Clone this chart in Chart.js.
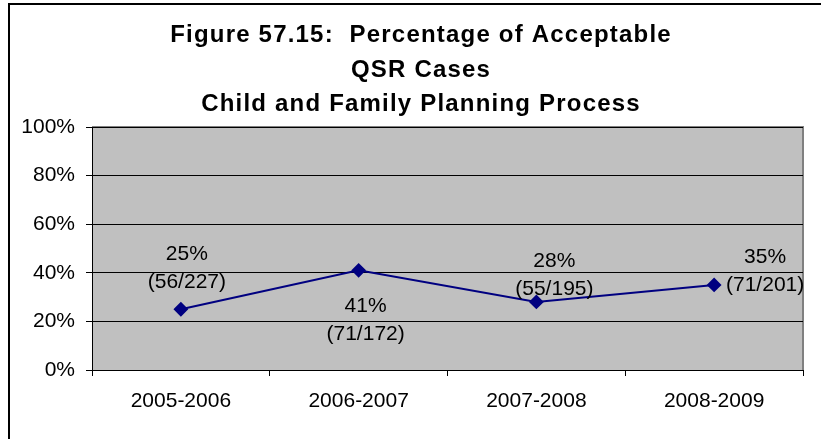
<!DOCTYPE html>
<html>
<head>
<meta charset="utf-8">
<script src="https://cdn.jsdelivr.net/npm/chart.js@4"></script>
<style>
  html, body { margin: 0; padding: 0; background: #fff; overflow: hidden; }
  .wrap { position: relative; width: 821px; height: 439px; }
  .frame { position: absolute; left: 8px; top: 3px; width: 900px; height: 500px; border: 2px solid #000; box-sizing: border-box; }
  canvas { position: absolute; left: 0; top: 0; }
</style>
</head>
<body>
<div class="wrap">
  <div class="frame"></div>
  <canvas id="chart" width="821" height="439"></canvas>
</div>
<script>
// chart data
const titleLines = ['Figure 57.15:  Percentage of Acceptable', 'QSR Cases', 'Child and Family Planning Process'];
const years = ['2005-2006', '2006-2007', '2007-2008', '2008-2009'];
const acceptablePct = [25, 41, 28, 35];
const caseCounts = ['(56/227)', '(71/172)', '(55/195)', '(71/201)'];
const yTicks = [0, 20, 40, 60, 80, 100];

// where each two-line label sits relative to its point (px)
const labelOffsets = [[6, -41], [7, 50], [18, -27], [51, -14]];
const titleBaselines = [42, 77, 111];

const FONT = 'Arial, "Liberation Sans", sans-serif';

// grey plot area with darker frame on top/right
const plotBackground = {
  id: 'plotBackground',
  beforeDraw(chart) {
    const { ctx, chartArea: a } = chart;
    ctx.save();
    ctx.fillStyle = '#C0C0C0';
    ctx.fillRect(a.left, a.top, a.right - a.left, a.bottom - a.top);
    ctx.strokeStyle = '#808080';
    ctx.lineWidth = 2;
    ctx.beginPath();
    ctx.moveTo(a.left, a.top);
    ctx.lineTo(a.right, a.top);
    ctx.lineTo(a.right, a.bottom);
    ctx.stroke();
    ctx.restore();
  }
};

// wide bold title, drawn by hand so letter spacing can match
const wideTitle = {
  id: 'wideTitle',
  afterDraw(chart) {
    const { ctx } = chart;
    ctx.save();
    ctx.font = 'bold 24px ' + FONT;
    ctx.letterSpacing = '1.2px';
    ctx.fillStyle = '#000';
    ctx.textAlign = 'center';
    ctx.textBaseline = 'alphabetic';
    titleLines.forEach((t, i) => ctx.fillText(t, 421, titleBaselines[i]));
    ctx.restore();
  }
};

// "25%" over "(56/227)" next to each point
const pointLabels = {
  id: 'pointLabels',
  afterDatasetsDraw(chart) {
    const { ctx } = chart;
    const meta = chart.getDatasetMeta(0);
    ctx.save();
    ctx.font = '21px ' + FONT;
    ctx.fillStyle = '#000';
    ctx.textAlign = 'center';
    ctx.textBaseline = 'middle';
    meta.data.forEach((pt, i) => {
      const cx = pt.x + labelOffsets[i][0];
      const cy = pt.y + labelOffsets[i][1];
      ctx.fillText(acceptablePct[i] + '%', cx, cy - 14);
      ctx.fillText(caseCounts[i], cx, cy + 14);
    });
    ctx.restore();
  }
};

new Chart(document.getElementById('chart'), {
  type: 'line',
  data: {
    labels: years,
    datasets: [{
      data: acceptablePct,
      borderColor: '#000080',
      backgroundColor: '#000080',
      borderWidth: 2,
      pointStyle: 'rectRot',
      pointRadius: 6,
      pointHoverRadius: 6,
      tension: 0
    }]
  },
  options: {
    responsive: false,
    animation: false,
    layout: { padding: { left: 0, right: 18, top: 127, bottom: 0 } },
    plugins: {
      legend: { display: false },
      tooltip: { enabled: false },
      title: { display: false }
    },
    scales: {
      x: {
        offset: true,
        grid: { offset: true, drawOnChartArea: false, drawTicks: true, tickLength: 6, color: '#000' },
        border: { display: true, color: '#000', width: 1 },
        ticks: { color: '#000', font: { family: FONT, size: 21 }, padding: 13, maxRotation: 0 },
        afterFit(scale) { scale.height = 69; }
      },
      y: {
        min: 0,
        max: 100,
        afterBuildTicks(scale) { scale.ticks = yTicks.map(v => ({ value: v })); },
        grid: { color: '#000', lineWidth: 1, tickLength: 6 },
        border: { display: true, color: '#000', width: 1 },
        ticks: { color: '#000', font: { family: FONT, size: 21 }, padding: 11, callback: v => v + '%' },
        afterFit(scale) { scale.width = 92; }
      }
    }
  },
  plugins: [plotBackground, pointLabels, wideTitle]
});
</script>
</body>
</html>
